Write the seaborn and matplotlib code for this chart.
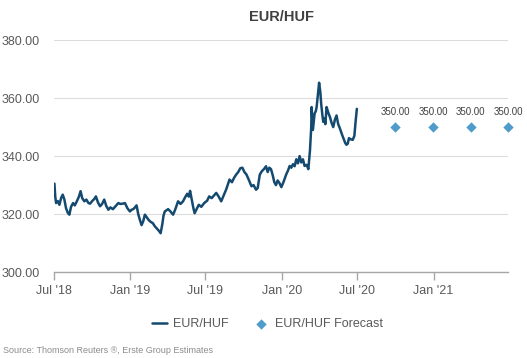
import matplotlib
matplotlib.use("Agg")
import matplotlib.pyplot as plt
import matplotlib.dates as mdates
import seaborn as sns
import pandas as pd

# EUR/HUF history
dates = [
    "2018-07-02", "2018-07-04", "2018-07-06", "2018-07-10", "2018-07-14", "2018-07-18",
    "2018-07-22", "2018-07-26", "2018-07-30", "2018-08-03", "2018-08-07", "2018-08-11",
    "2018-08-16", "2018-08-20", "2018-08-25", "2018-08-30", "2018-09-03", "2018-09-07",
    "2018-09-12", "2018-09-17", "2018-09-22", "2018-09-26", "2018-10-01", "2018-10-06",
    "2018-10-10", "2018-10-15", "2018-10-20", "2018-10-25", "2018-10-30", "2018-11-04",
    "2018-11-09", "2018-11-14", "2018-11-20", "2018-11-25", "2018-12-03", "2018-12-08",
    "2018-12-14", "2018-12-19", "2018-12-25", "2018-12-31", "2019-01-04", "2019-01-08",
    "2019-01-12", "2019-01-16", "2019-01-20", "2019-01-24", "2019-01-28", "2019-02-01",
    "2019-02-05", "2019-02-09", "2019-02-14", "2019-02-19", "2019-02-24", "2019-03-01",
    "2019-03-06", "2019-03-11", "2019-03-15", "2019-03-19", "2019-03-22", "2019-03-25",
    "2019-03-29", "2019-04-02", "2019-04-07", "2019-04-14", "2019-04-19", "2019-04-26",
    "2019-05-02", "2019-05-08", "2019-05-13", "2019-05-18", "2019-05-22", "2019-05-25",
    "2019-05-29", "2019-06-02", "2019-06-05", "2019-06-10", "2019-06-15", "2019-06-21",
    "2019-06-28", "2019-07-05", "2019-07-10", "2019-07-16", "2019-07-22", "2019-07-27",
    "2019-08-02", "2019-08-08", "2019-08-14", "2019-08-20", "2019-08-28", "2019-09-03",
    "2019-09-08", "2019-09-13", "2019-09-18", "2019-09-23", "2019-09-28", "2019-10-03",
    "2019-10-08", "2019-10-13", "2019-10-20", "2019-10-25", "2019-10-31", "2019-11-04",
    "2019-11-09", "2019-11-14", "2019-11-19", "2019-11-24", "2019-11-28", "2019-12-02",
    "2019-12-06", "2019-12-10", "2019-12-14", "2019-12-18", "2019-12-22", "2019-12-26",
    "2019-12-31", "2020-01-05", "2020-01-12", "2020-01-16", "2020-01-20", "2020-01-24",
    "2020-01-28", "2020-02-01", "2020-02-05", "2020-02-09", "2020-02-13", "2020-02-17",
    "2020-02-21", "2020-02-25", "2020-03-01", "2020-03-05", "2020-03-09", "2020-03-12",
    "2020-03-13", "2020-03-16", "2020-03-18", "2020-03-20", "2020-03-23", "2020-03-25",
    "2020-03-28", "2020-03-31", "2020-04-03", "2020-04-05", "2020-04-08", "2020-04-10",
    "2020-04-13", "2020-04-15", "2020-04-18", "2020-04-22", "2020-04-26", "2020-04-30",
    "2020-05-04", "2020-05-08", "2020-05-12", "2020-05-16", "2020-05-20", "2020-05-25",
    "2020-05-30", "2020-06-02", "2020-06-05", "2020-06-08", "2020-06-11", "2020-06-15",
    "2020-06-20", "2020-06-24", "2020-06-27", "2020-06-30",
]
rates = [
    330.5, 326.0, 323.8, 324.5, 323.2, 325.5,
    326.7, 325.0, 322.0, 320.5, 319.8, 322.5,
    323.8, 323.0, 324.4, 326.0, 327.9, 325.5,
    324.4, 325.0, 323.8, 323.6, 324.5, 325.2,
    326.1, 324.0, 322.7, 323.5, 325.0, 322.8,
    321.5, 322.3, 321.7, 322.5, 323.8, 323.5,
    323.6, 323.8, 322.0, 320.9, 321.5, 321.7,
    322.3, 323.0, 320.0, 318.0, 316.2, 317.5,
    319.8, 319.0, 318.0, 317.3, 316.9, 315.8,
    315.0, 314.2, 313.4, 316.5, 319.5, 320.9,
    321.3, 321.7, 321.0, 319.8, 321.5, 324.4,
    323.5, 324.4, 325.8, 327.0, 326.0, 328.0,
    325.0, 322.0, 320.3, 321.8, 323.2, 322.5,
    323.8, 324.6, 326.1, 325.5, 326.5, 327.3,
    326.0, 324.4, 326.5, 328.5, 331.9, 331.0,
    332.5, 333.6, 334.5, 335.8, 336.0, 334.5,
    333.6, 332.0, 329.6, 330.0, 328.4, 329.0,
    333.6, 334.8, 335.5, 336.5, 334.5, 336.0,
    335.5, 333.5, 331.0, 330.0, 331.6, 330.8,
    329.3, 331.0, 333.8, 335.0, 336.6, 336.0,
    337.2, 336.5, 338.9, 337.5, 340.0, 337.8,
    338.9, 336.6, 337.0, 335.5, 342.0, 350.0,
    356.9, 349.0, 352.0, 354.6, 355.5, 356.9,
    361.0, 365.3, 362.0, 358.0, 354.0, 351.8,
    353.0, 351.0, 356.9, 355.0, 353.5, 351.5,
    350.0, 352.5, 354.0, 351.0, 349.6, 347.5,
    345.6, 344.5, 343.9, 344.3, 346.2, 345.8,
    345.6, 347.0, 352.0, 356.3,
]

# Erste forecasts (quarter ends)
fc_dates = ["2020-09-30", "2020-12-31", "2021-03-31", "2021-06-30"]
fc_values = [350.0, 350.0, 350.0, 350.0]

hist = pd.DataFrame({"date": pd.to_datetime(dates), "rate": rates})
fc = pd.DataFrame({"date": pd.to_datetime(fc_dates), "rate": fc_values})

sns.set_style("white")
plt.rcParams["font.family"] = ["Liberation Sans", "DejaVu Sans"]

line_col = "#154a70"
fc_col = "#4f9ccb"
grey = "#595959"

fig = plt.figure(figsize=(5.27, 3.58), dpi=100)
ax = fig.add_axes([0.1025, 0.24, 0.862, 0.648])

sns.lineplot(data=hist, x="date", y="rate", ax=ax, color=line_col, linewidth=1.8,
             label="EUR/HUF")
sns.scatterplot(data=fc, x="date", y="rate", ax=ax, color=fc_col, marker="D", s=28,
                edgecolor=fc_col, linewidth=0, label="EUR/HUF Forecast", clip_on=False,
                zorder=3)
for d, v in zip(fc["date"], fc["rate"]):
    ax.annotate(f"{v:.2f}", (d, v), xytext=(0, 7), textcoords="offset points",
                ha="center", va="bottom", fontsize=7, color="#404040")

ax.set_ylim(300, 380)
ax.set_yticks([300, 320, 340, 360, 380])
ax.yaxis.set_major_formatter(matplotlib.ticker.FuncFormatter(lambda v, p: f"{v:.2f}"))
ax.set_xlim(pd.Timestamp("2018-07-01"), pd.Timestamp("2021-06-30"))
ax.xaxis.set_major_locator(mdates.MonthLocator(bymonth=(1, 7)))
ax.xaxis.set_major_formatter(mdates.DateFormatter("%b '%y"))

ax.grid(axis="y", color="#dcdcdc", linewidth=0.8)
ax.set_axisbelow(True)
for s in ["top", "right", "left"]:
    ax.spines[s].set_visible(False)
ax.spines["bottom"].set_color("#a6a6a6")
ax.spines["bottom"].set_linewidth(1.0)
ax.tick_params(axis="x", colors="#a6a6a6", labelcolor=grey, length=6, width=1.0,
               direction="out", labelsize=9, pad=3, bottom=True)
ax.tick_params(axis="y", length=0, labelcolor=grey, labelsize=9, pad=10)
ax.set_xlabel("")
ax.set_ylabel("")

ax.set_title("EUR/HUF", fontsize=10.5, fontweight="bold", color="#404040", pad=14)

ax.legend(loc="upper center", bbox_to_anchor=(0.47, -0.15), ncol=2, frameon=False,
          fontsize=9, labelcolor=grey, handlelength=1.2, columnspacing=2.0,
          handletextpad=0.5)

fig.text(0.006, 0.008, "Source: Thomson Reuters \u00ae, Erste Group Estimates",
         fontsize=6.5, color="#8c8c8c", ha="left", va="bottom")

fig.savefig("out.png", dpi=100)
